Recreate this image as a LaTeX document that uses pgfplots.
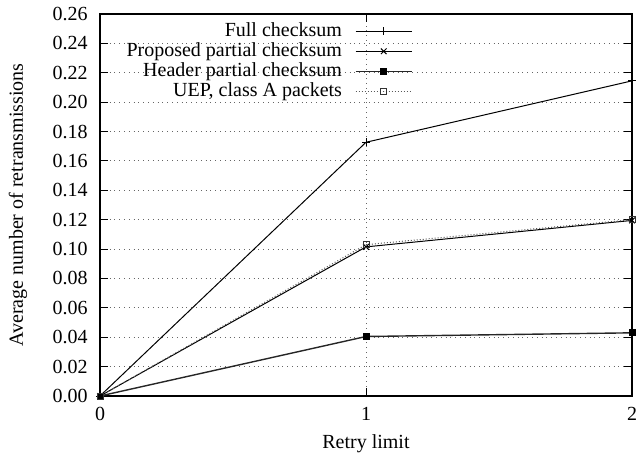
\documentclass[border=0pt]{standalone}
\usepackage{fontspec}
\setmainfont{Liberation Serif}
\usepackage{pgfplots}
\pgfplotsset{compat=1.18}
\begin{document}
\begin{tikzpicture}
\begin{axis}[
  name=ax,
  scale only axis,
  width=266pt, height=191pt,
  xmin=0, xmax=2, ymin=0, ymax=0.26,
  xtick={0,1,2},
  ytick={0,0.02,...,0.261},
  /pgf/number format/assume math mode=true,
  yticklabel style={/pgf/number format/.cd, fixed, fixed zerofill, precision=2, /tikz/.cd, xshift=-2.7pt},
  xticklabel style={yshift=-2pt},
  tick align=inside,
  major tick length=4pt,
  tick style={black, line width=0.5pt},
  axis line style={line width=0.75pt},
  grid=major,
  grid style={dotted, black!60, line width=0.5pt},
  xlabel={Retry limit},
  ylabel={Average number of retransmissions},
  xlabel style={at={(axis description cs:0.5,-0.125)}, anchor=center},
  ylabel style={at={(axis description cs:-0.154,0.5)}, anchor=center},
  legend plot pos=right,
  legend cell align=right,
  legend image code/.code={\draw[mark repeat=2,mark phase=2,#1] plot coordinates {(0pt,0pt)(14pt,0pt)(28pt,0pt)};},
  legend style={draw=none, fill=none, at={(axis description cs:0.588,0.982)}, anchor=north east,
    inner sep=0pt, row sep=0pt, column sep=6pt,
    nodes={inner sep=0.5pt, text height=7pt, text depth=2pt}},
]
\addplot[black, line width=0.5pt, mark=+, mark size=2pt] coordinates {(0,0) (1,0.1727) (2,0.2145)};
\addlegendentry{Full checksum}
\addplot[black, line width=0.5pt, mark=x, mark size=2pt] coordinates {(0,0) (1,0.1015) (2,0.1195)};
\addlegendentry{Proposed partial checksum}
\addplot[black!85, line width=0.7pt, mark=square*, mark size=1.4pt, mark options={black, solid}] coordinates {(0,0) (1,0.0405) (2,0.0430)};
\addlegendentry{Header partial checksum}
\addplot[black!65, densely dotted, line width=0.5pt, mark=square, mark size=1.5pt, mark options={black!80, solid}] coordinates {(0,0) (1,0.1030) (2,0.1200)};
\addlegendentry{UEP, class A packets}
\end{axis}
\pgfresetboundingbox
\path[use as bounding box] ([xshift=-50pt,yshift=-31.5pt]ax.south west) rectangle ([xshift=3.5pt,yshift=7pt]ax.north east);
\end{tikzpicture}
\end{document}
